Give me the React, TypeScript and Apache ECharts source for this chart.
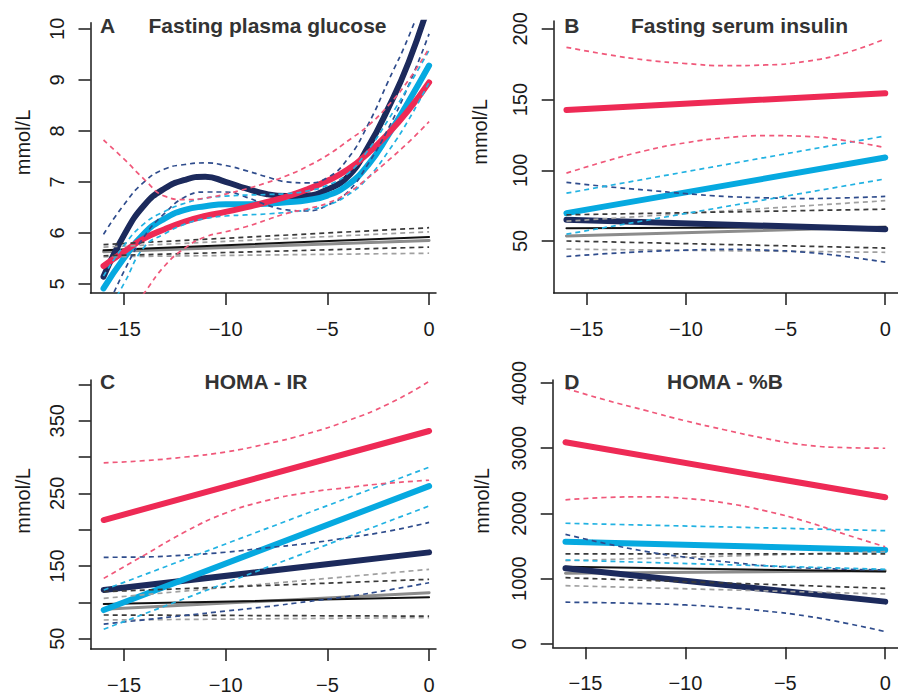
import React, { useEffect, useRef } from "react";
import * as echarts from "echarts";

// ---------- x positions (years before diagnosis) ----------
const X_FULL = [-16, -15, -14, -13, -12, -11, -10, -9, -8, -7, -6, -5, -4, -3, -2, -1, 0];
const X_EVEN = [-16, -14, -12, -10, -8, -6, -4, -2, 0];
const X_ENDS = [-16, 0];

const X_TICKS = [-15, -10, -5, 0];

// ---------- Panel A: Fasting plasma glucose ----------
const A_navy = [5.14, 5.95, 6.54, 6.87, 7.04, 7.1, 7.0, 6.87, 6.76, 6.72, 6.73, 6.85, 7.1, 7.68, 8.45, 9.35, 10.5];
const A_navyHi = [5.97, 6.55, 7.0, 7.25, 7.34, 7.37, 7.32, 7.22, 7.1, 7.0, 6.98, 7.08, 7.45, 8.12, 8.98, 9.85, 10.9];
const A_navyLo = [4.35, 5.24, 5.93, 6.38, 6.7, 6.8, 6.8, 6.7, 6.55, 6.45, 6.43, 6.54, 6.8, 7.35, 8.05, 8.9, 9.9];
const A_lblue = [4.91, 5.5, 5.99, 6.28, 6.45, 6.52, 6.56, 6.56, 6.57, 6.6, 6.64, 6.73, 6.94, 7.33, 7.92, 8.58, 9.28];
const A_lbHi = [5.15, 5.75, 6.18, 6.42, 6.58, 6.68, 6.72, 6.74, 6.75, 6.77, 6.82, 6.93, 7.16, 7.62, 8.22, 8.88, 9.58];
const A_lbLo = [4.3, 5.0, 5.72, 5.98, 6.17, 6.28, 6.33, 6.35, 6.37, 6.4, 6.45, 6.54, 6.74, 7.08, 7.6, 8.22, 8.95];
const A_red = [5.35, 5.63, 5.89, 6.07, 6.22, 6.33, 6.41, 6.5, 6.6, 6.71, 6.85, 7.02, 7.24, 7.56, 7.95, 8.41, 8.95];
const A_redHi = [7.82, 7.45, 7.05, 6.72, 6.65, 6.68, 6.76, 6.86, 6.98, 7.12, 7.3, 7.52, 7.8, 8.1, 8.5, 9.0, 9.62];
const A_redLo = [3.6, 4.3, 4.82, 5.35, 5.7, 5.92, 6.02, 6.12, 6.25, 6.38, 6.47, 6.58, 6.78, 7.08, 7.42, 7.78, 8.18];
const A_black = [5.66, 5.92];
const A_blackHi = [5.77, 6.1];
const A_blackLo = [5.55, 5.72];
const A_grey = [5.63, 5.85];
const A_greyHi = [5.72, 6.02];
const A_greyLo = [5.53, 5.6];
const A_yTicks = [5, 6, 7, 8, 9, 10];

// ---------- Panel B: Fasting serum insulin ----------
const B_red = [142.7, 154.5];
const B_redHi = [187, 182, 178, 175.5, 174, 174.5, 177, 183, 193];
const B_redLo = [98, 106.5, 114, 119.5, 123, 124.5, 124, 121, 116];
const B_lblue = [69.7, 109];
const B_lbHi = [83.8, 124.3];
const B_lbLo = [54.8, 93.9];
const B_navy = [65, 58.3];
const B_navyHi = [91.5, 88.5, 86, 83.5, 81.5, 80.5, 80, 80.5, 81.5];
const B_navyLo = [39, 41, 42.5, 43.5, 44, 43.5, 42, 39, 35];
const B_black = [59, 59.8];
const B_blackHi = [68.5, 72.5];
const B_blackLo = [50, 45];
const B_grey = [53.6, 59.8];
const B_greyHi = [64, 78.5];
const B_greyLo = [44.2, 42];
const B_yTicks = [50, 100, 150, 200];

// ---------- Panel C: HOMA - IR ----------
const C_red = [213.3, 335.8];
const C_redHi = [292, 295, 300, 307, 318, 332, 350, 373, 404];
const C_redLo = [133, 165, 197, 223, 240, 251, 258, 264, 268];
const C_lblue = [89.4, 260];
const C_lbHi = [117, 286];
const C_lbLo = [63, 232.6];
const C_navy = [117, 168.8];
const C_navyHi = [162, 162.5, 165, 169, 175, 181, 189, 198, 210];
const C_navyLo = [70, 76, 82, 88, 94, 101, 108, 117, 127];
const C_black = [97.7, 106.9];
const C_blackHi = [114.7, 131.7];
const C_blackLo = [82.6, 81];
const C_grey = [90.4, 113.3];
const C_greyHi = [105.6, 145.4];
const C_greyLo = [75.7, 79];
const C_yTicks = [50, 100, 150, 200, 250, 300, 350, 400];
const C_yLabels = [50, 150, 250, 350];

// ---------- Panel D: HOMA - %B ----------
const D_red = [3091, 2248];
const D_redHi = [3920, 3740, 3580, 3420, 3280, 3150, 3050, 3010, 3000];
const D_redLo = [2210, 2245, 2255, 2230, 2160, 2040, 1880, 1680, 1490];
const D_lblue = [1568, 1441];
const D_lbHi = [1850, 1737];
const D_lbLo = [1287, 1144];
const D_navy = [1160, 649];
const D_navyHi = [1680, 1540, 1420, 1330, 1260, 1200, 1165, 1145, 1135];
const D_navyLo = [640, 632, 618, 598, 560, 505, 430, 320, 190];
const D_black = [1185, 1109];
const D_blackHi = [1380, 1380];
const D_blackLo = [1016, 853];
const D_grey = [1083, 1124];
const D_greyHi = [1277, 1415];
const D_greyLo = [894, 766];
const D_yTicks = [0, 1000, 2000, 3000, 4000];

// ---------- styling ----------
const RED = "#ee2a55";
const RED_D = "#f0587a";
const LB = "#06a9e0";
const LB_D = "#22b2e2";
const NAVY = "#1c2a5c";
const NAVY_D = "#2f4c8c";
const BLACK = "#111111";
const BLACK_D = "#3a3a3a";
const GREY = "#8c8c8c";
const GREY_D = "#a0a0a0";
const AXIS = "#1a1a1a";
const FONT = '"Liberation Sans", Arial, Helvetica, sans-serif';

function line(g: number, xs: number[], ys: number[], color: string, width: number, dashed: boolean, z: number) {
  return {
    type: "line",
    xAxisIndex: g,
    yAxisIndex: g,
    data: xs.map((x, i) => [x, ys[i]]),
    showSymbol: false,
    symbol: "none",
    smooth: xs.length > 2 ? 0.5 : false,
    silent: true,
    z,
    lineStyle: {
      color,
      width,
      type: dashed ? [5, 4] : "solid",
      cap: dashed ? "butt" : "round",
      join: "round",
    },
  };
}

type Panel = {
  g: number;
  navy: [number[], number[]]; navyHi: [number[], number[]]; navyLo: [number[], number[]];
  lb: [number[], number[]]; lbHi: [number[], number[]]; lbLo: [number[], number[]];
  red: [number[], number[]]; redHi: [number[], number[]]; redLo: [number[], number[]];
  black: number[]; blackHi: number[]; blackLo: number[];
  grey: number[]; greyHi: number[]; greyLo: number[];
};

function panelSeries(p: Panel) {
  const g = p.g;
  const dw = 1.7;
  return [
    line(g, X_ENDS, p.grey, GREY, 3, false, 2),
    line(g, X_ENDS, p.black, BLACK, 2, false, 2),
    line(g, p.navy[0], p.navy[1], NAVY, 6, false, 3),
    line(g, p.lb[0], p.lb[1], LB, 6, false, 4),
    line(g, p.red[0], p.red[1], RED, 6, false, 5),
    line(g, X_ENDS, p.greyHi, GREY_D, dw, true, 6),
    line(g, X_ENDS, p.greyLo, GREY_D, dw, true, 6),
    line(g, X_ENDS, p.blackHi, BLACK_D, dw, true, 6),
    line(g, X_ENDS, p.blackLo, BLACK_D, dw, true, 6),
    line(g, p.navyHi[0], p.navyHi[1], NAVY_D, dw, true, 6),
    line(g, p.navyLo[0], p.navyLo[1], NAVY_D, dw, true, 6),
    line(g, p.lbHi[0], p.lbHi[1], LB_D, dw, true, 6),
    line(g, p.lbLo[0], p.lbLo[1], LB_D, dw, true, 6),
    line(g, p.redHi[0], p.redHi[1], RED_D, dw, true, 6),
    line(g, p.redLo[0], p.redLo[1], RED_D, dw, true, 6),
  ];
}

const minus = (v: number) => String(v).replace("-", "\u2212");

function xAxis(g: number, max: number) {
  return {
    type: "value",
    gridIndex: g,
    min: -16.64,
    max,
    axisLine: { onZero: false, lineStyle: { color: AXIS, width: 1.5 } },
    axisTick: { customValues: X_TICKS, length: 12, lineStyle: { color: AXIS, width: 1.5 } },
    axisLabel: { customValues: X_TICKS, formatter: minus, fontSize: 20, color: "#1a1a1a", margin: 26, fontFamily: FONT },
    splitLine: { show: false },
  };
}

function yAxis(g: number, min: number, max: number, ticks: number[], labels: number[]) {
  return {
    type: "value",
    gridIndex: g,
    min,
    max,
    axisLine: { onZero: false, lineStyle: { color: AXIS, width: 1.5 } },
    axisTick: { customValues: ticks, length: 12, lineStyle: { color: AXIS, width: 1.5 } },
    axisLabel: {
      customValues: labels,
      formatter: (v: number) => String(v),
      rotate: 90,
      fontSize: 20,
      color: "#1a1a1a",
      margin: 24,
      fontFamily: FONT,
    },
    splitLine: { show: false },
  };
}

function txt(x: number, y: number, text: string, align: string, size: number, bold: boolean, rotation = 0) {
  return {
    type: "text",
    x,
    y,
    rotation,
    silent: true,
    z: 10,
    style: {
      text,
      fill: bold ? "#333333" : "#1a1a1a",
      font: `${bold ? "bold " : ""}${size}px ${FONT}`,
      textAlign: align,
      textVerticalAlign: "middle",
    },
  };
}

export default function App() {
  const ref = useRef<HTMLDivElement>(null);
  useEffect(() => {
    if (!ref.current) return;
    const chart = echarts.init(ref.current, undefined, { renderer: "svg" });
    const panels: Panel[] = [
      {
        g: 0,
        navy: [X_FULL, A_navy], navyHi: [X_FULL, A_navyHi], navyLo: [X_FULL, A_navyLo],
        lb: [X_FULL, A_lblue], lbHi: [X_FULL, A_lbHi], lbLo: [X_FULL, A_lbLo],
        red: [X_FULL, A_red], redHi: [X_FULL, A_redHi], redLo: [X_FULL, A_redLo],
        black: A_black, blackHi: A_blackHi, blackLo: A_blackLo,
        grey: A_grey, greyHi: A_greyHi, greyLo: A_greyLo,
      },
      {
        g: 1,
        navy: [X_ENDS, B_navy], navyHi: [X_EVEN, B_navyHi], navyLo: [X_EVEN, B_navyLo],
        lb: [X_ENDS, B_lblue], lbHi: [X_ENDS, B_lbHi], lbLo: [X_ENDS, B_lbLo],
        red: [X_ENDS, B_red], redHi: [X_EVEN, B_redHi], redLo: [X_EVEN, B_redLo],
        black: B_black, blackHi: B_blackHi, blackLo: B_blackLo,
        grey: B_grey, greyHi: B_greyHi, greyLo: B_greyLo,
      },
      {
        g: 2,
        navy: [X_ENDS, C_navy], navyHi: [X_EVEN, C_navyHi], navyLo: [X_EVEN, C_navyLo],
        lb: [X_ENDS, C_lblue], lbHi: [X_ENDS, C_lbHi], lbLo: [X_ENDS, C_lbLo],
        red: [X_ENDS, C_red], redHi: [X_EVEN, C_redHi], redLo: [X_EVEN, C_redLo],
        black: C_black, blackHi: C_blackHi, blackLo: C_blackLo,
        grey: C_grey, greyHi: C_greyHi, greyLo: C_greyLo,
      },
      {
        g: 3,
        navy: [X_ENDS, D_navy], navyHi: [X_EVEN, D_navyHi], navyLo: [X_EVEN, D_navyLo],
        lb: [X_ENDS, D_lblue], lbHi: [X_ENDS, D_lbHi], lbLo: [X_ENDS, D_lbLo],
        red: [X_ENDS, D_red], redHi: [X_EVEN, D_redHi], redLo: [X_EVEN, D_redLo],
        black: D_black, blackHi: D_blackHi, blackLo: D_blackLo,
        grey: D_grey, greyHi: D_greyHi, greyLo: D_greyLo,
      },
    ];

    const option = {
      animation: false,
      backgroundColor: "#ffffff",
      grid: [
        { left: 90.5, top: 22.7, width: 345.5, height: 270.3 },
        { left: 553.7, top: 21, width: 351.3, height: 272 },
        { left: 90.7, top: 380, width: 345.3, height: 269 },
        { left: 552.7, top: 380, width: 351, height: 267.3 },
      ],
      xAxis: [xAxis(0, 0.34), xAxis(1, 0.64), xAxis(2, 0.34), xAxis(3, 0.64)],
      yAxis: [
        yAxis(0, 4.82, 10.12, A_yTicks, A_yTicks),
        yAxis(1, 13.2, 205.6, B_yTicks, B_yTicks),
        yAxis(2, 35.8, 406, C_yTicks, C_yLabels),
        yAxis(3, -51, 4046, D_yTicks, D_yTicks),
      ],
      series: panels.flatMap(panelSeries),
      graphic: [
        txt(100, 25.5, "A", "left", 21, true),
        txt(267.5, 25.5, "Fasting plasma glucose", "center", 21, true),
        txt(564.3, 25.5, "B", "left", 21, true),
        txt(739.5, 25.5, "Fasting serum insulin", "center", 21, true),
        txt(100, 381, "C", "left", 21, true),
        txt(256, 381, "HOMA - IR", "center", 21, true),
        txt(564.3, 381, "D", "left", 21, true),
        txt(725, 381, "HOMA - %B", "center", 21, true),
        txt(23, 142.5, "mmol/L", "center", 20, false, Math.PI / 2),
        txt(480, 132, "mmol/L", "center", 20, false, Math.PI / 2),
        txt(23, 501, "mmol/L", "center", 20, false, Math.PI / 2),
        txt(482, 501, "mmol/L", "center", 20, false, Math.PI / 2),
      ],
    };
    chart.setOption(option as any);
    return () => chart.dispose();
  }, []);
  return (
    <div
      ref={ref}
      style={{ position: "absolute", left: 0, top: 0, width: 898, height: 697, background: "#fff" }}
    />
  );
}
